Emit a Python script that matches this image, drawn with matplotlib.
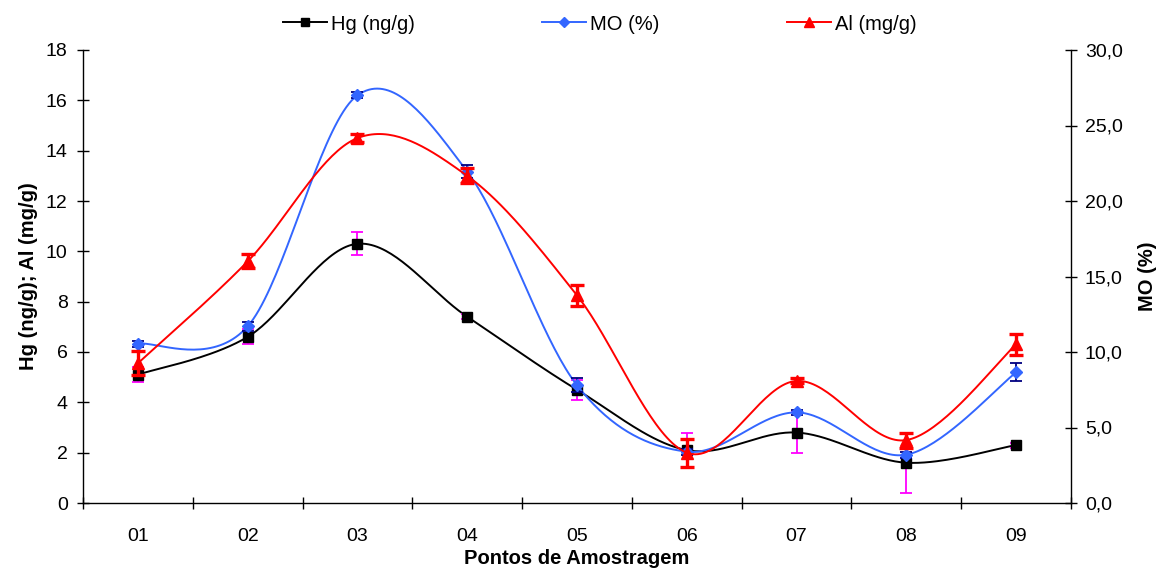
import numpy as np
import matplotlib
matplotlib.use('Agg')
import matplotlib.pyplot as plt
from matplotlib.ticker import FuncFormatter, FixedLocator, NullFormatter
from matplotlib.lines import Line2D

plt.rcParams['font.family'] = ['Liberation Sans', 'DejaVu Sans']

points = ['01', '02', '03', '04', '05', '06', '07', '08', '09']
hg = [5.1, 6.6, 10.3, 7.4, 4.5, 2.1, 2.8, 1.6, 2.3]
hg_err = [0.3, 0.3, 0.45, 0.1, 0.4, 0.7, 0.8, 1.2, 0.1]
mo = [10.55, 11.7, 27.0, 21.95, 7.8, 3.4, 6.0, 3.2, 8.65]
mo_err = [0.2, 0.3, 0.2, 0.45, 0.45, 0.2, 0.15, 0.2, 0.6]
al = [5.55, 9.6, 14.5, 13.0, 8.25, 2.0, 4.85, 2.5, 6.3]
al_err = [0.47, 0.28, 0.15, 0.3, 0.43, 0.55, 0.1, 0.3, 0.43]


def smooth(xv, yv, n=40):
    P = np.column_stack([np.asarray(xv, float), np.asarray(yv, float)])
    P = np.vstack([P[0], P, P[-1]])
    out = []
    for i in range(1, len(P) - 2):
        p0, p1, p2, p3 = P[i - 1], P[i], P[i + 1], P[i + 2]
        c1 = p1 + (p2 - p0) / 6.0
        c2 = p2 - (p3 - p1) / 6.0
        t = np.linspace(0, 1, n)[:, None]
        seg = ((1 - t) ** 3) * p1 + 3 * ((1 - t) ** 2) * t * c1 + 3 * (1 - t) * t ** 2 * c2 + t ** 3 * p2
        out.append(seg if i == 1 else seg[1:])
    s = np.vstack(out)
    return s[:, 0], s[:, 1]


fig = plt.figure(figsize=(11.6, 5.72), dpi=100)
ax1 = fig.add_axes([83 / 1160, 1 - 503 / 572, (1071 - 83) / 1160, (503 - 50) / 572])
ax2 = ax1.twinx()
ax1.set_zorder(2)
ax1.patch.set_visible(False)

x = np.arange(len(points))

ax1.set_xlim(-0.5, len(points) - 0.5)
ax1.set_ylim(0, 18)
ax2.set_ylim(0, 30)

# Hg
sx, sy = smooth(x, hg)
ax1.plot(sx, sy, color='black', lw=1.4, zorder=3)
ax1.errorbar(x, hg, yerr=hg_err, fmt='none', ecolor='#FF00FF', elinewidth=1.3, capsize=4.5, capthick=1.3, zorder=3.1)
ax1.plot(x, hg, ls='none', marker='s', ms=6.5, color='black', zorder=3.2)

# MO (right axis scale, drawn in ax1 for stacking)
tr = ax2.transData
sx, sy = smooth(x, mo)
ax1.plot(sx, sy, color='#3366FF', lw=1.4, zorder=4, transform=tr)
ax1.errorbar(x, mo, yerr=mo_err, fmt='none', ecolor='#000080', elinewidth=1.3, capsize=4.5, capthick=1.3, zorder=4.1, transform=tr)
ax1.plot(x, mo, ls='none', marker='D', ms=6, color='#3366FF', zorder=4.2, transform=tr)

# Al
sx, sy = smooth(x, al)
ax1.plot(sx, sy, color='#FF0000', lw=1.4, zorder=5)
ax1.errorbar(x, al, yerr=al_err, fmt='none', ecolor='#FF0000', elinewidth=2.4, capsize=5, capthick=2.4, zorder=5.1)
ax1.plot(x, al, ls='none', marker='^', ms=8, color='#FF0000', zorder=5.2)

# axes styling
ax1.xaxis.set_major_locator(FixedLocator(np.arange(-0.5, len(points), 1.0)))
ax1.xaxis.set_major_formatter(NullFormatter())
ax1.xaxis.set_minor_locator(FixedLocator(x))
ax1.set_xticklabels(points, minor=True)
ax1.tick_params(axis='x', which='major', direction='inout', length=8, width=1)
ax1.tick_params(axis='x', which='minor', length=0, pad=18, labelsize=14)

ax1.set_yticks(np.arange(0, 19, 2))
ax1.tick_params(axis='y', direction='inout', length=8, width=1, labelsize=14, pad=7)
ax2.set_yticks(np.arange(0, 31, 5))
ax2.yaxis.set_major_formatter(FuncFormatter(lambda v, p: ('%.1f' % v).replace('.', ',')))
ax2.tick_params(axis='y', direction='inout', length=8, width=1, labelsize=14, pad=6)

for a in (ax1, ax2):
    a.spines['top'].set_visible(False)
    for s in ('left', 'right', 'bottom'):
        a.spines[s].set_linewidth(1.0)
ax2.spines['left'].set_visible(False)
ax2.spines['bottom'].set_visible(False)
ax1.spines['right'].set_visible(False)

ax1.set_ylabel('Hg (ng/g); Al (mg/g)', fontsize=14.5, fontweight='bold', labelpad=6)
ax2.set_ylabel('MO (%)', fontsize=14.5, fontweight='bold', labelpad=11)
ax1.set_xlabel('Pontos de Amostragem', fontsize=14.5, fontweight='bold', labelpad=3)

handles = [
    Line2D([], [], color='black', lw=1.4, marker='s', ms=6),
    Line2D([], [], color='#3366FF', lw=1.4, marker='D', ms=5.5),
    Line2D([], [], color='#FF0000', lw=1.4, marker='^', ms=7),
]
fig.legend(handles, ['Hg (ng/g)', 'MO (%)', 'Al (mg/g)'], loc='center', bbox_to_anchor=(0.517, 0.958),
           ncol=3, frameon=False, fontsize=14.5, handlelength=2.2, handletextpad=0.2, columnspacing=6.3)

fig.savefig('out.png', dpi=100)
